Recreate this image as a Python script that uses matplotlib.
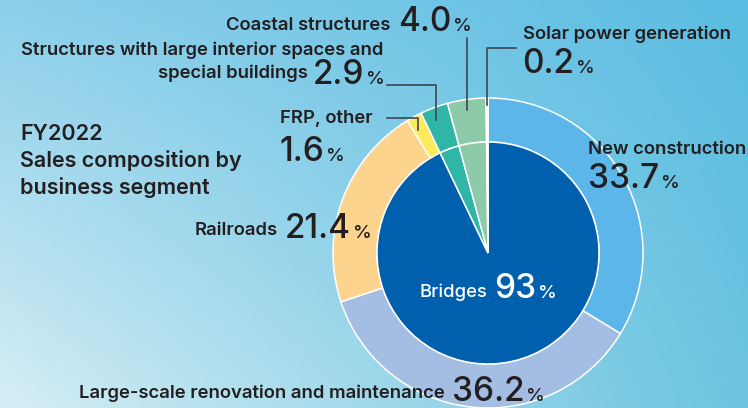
import numpy as np
import matplotlib
matplotlib.use("Agg")
import matplotlib.pyplot as plt

# outer ring: business segments (clockwise from 12 o'clock)
outer_names = ["New construction", "Large-scale renovation and maintenance", "Railroads",
               "FRP, other", "Structures with large interior spaces and special buildings",
               "Coastal structures", "Solar power generation"]
outer_vals = [33.7, 36.2, 21.4, 1.6, 2.9, 4.0, 0.2]
outer_colors = ["#5db6e9", "#a4bee3", "#fdd48e", "#fbea5a", "#30b6a6", "#8dcaa9", "#d2ecd6"]

# inner pie: bridges vs. the rest
inner_vals = [92.9, 2.9, 4.0, 0.2]
inner_colors = ["#0060ae", "#30b6a6", "#8dcaa9", "#d2ecd6"]

TXT = "#231f20"
LINE = "#3d4650"
W, H = 748, 408

plt.rcParams['font.family'] = ['Inter', 'DejaVu Sans']

fig = plt.figure(figsize=(W / 100, H / 100), dpi=100)
ax = fig.add_axes([0, 0, 1, 1])

# sky gradient background
def hex2rgb(h):
    return np.array([int(h[i:i + 2], 16) / 255 for i in (1, 3, 5)])
tl, tr, bl, br = [hex2rgb(c) for c in ("#8ccfea", "#5bbde2", "#d6eef5", "#6cc4e0")]
xs = np.linspace(0, 1, 200)[None, :, None]
ys = np.linspace(0, 1, 120)[:, None, None]
bg = (1 - ys) * ((1 - xs) * tl + xs * tr) + ys * ((1 - xs) * bl + xs * br)
ax.imshow(bg, extent=[0, W, 0, H], aspect='auto', zorder=0)

cx, cy = 488, H - 253
R, r = 155, 111
ax.pie(outer_vals, colors=outer_colors, startangle=90, counterclock=False,
       center=(cx, cy), radius=R, frame=True,
       wedgeprops=dict(width=R - r, edgecolor='white', linewidth=1.1))
ax.pie(inner_vals, colors=inner_colors, startangle=90, counterclock=False,
       center=(cx, cy), radius=r, frame=True,
       wedgeprops=dict(edgecolor='white', linewidth=1.1))
ax.set_xlim(0, W)
ax.set_ylim(0, H)
ax.axis('off')

renderer = fig.canvas.get_renderer()

def T(x, y, s, size=13.3, color=TXT, weight='semibold', ha='left'):
    return ax.text(x, H - y, s, fontsize=size, color=color, fontweight=weight,
                   ha=ha, va='baseline')

def num(x, y, s, color=TXT):
    t = T(x, y, s, size=24, color=color, weight='medium')
    x1 = t.get_window_extent(renderer=renderer).x1
    T(x1 + 2, y, "%", size=13.5, color=color, weight='medium')

# title
T(20, 140, "FY2022", size=15.5)
T(20, 167, "Sales composition by", size=15.5)
T(20, 194, "business segment", size=15.5)

# labels
T(390, 30, "Coastal structures", ha='right')
num(398, 31, "4.0")
T(383, 55, "Structures with large interior spaces and", ha='right')
T(308, 78, "special buildings", ha='right')
num(313, 84, "2.9")
T(280, 123, "FRP, other")
num(279, 161, "1.6")
T(278, 235, "Railroads", ha='right')
num(285, 238, "21.4")
T(588, 154, "New construction")
num(588, 188, "33.7")
T(523, 39, "Solar power generation")
num(522, 73, "0.2")
T(445, 398, "Large-scale renovation and maintenance", ha='right')
num(452, 401, "36.2")
T(420, 297, "Bridges", size=13.3, color='white', weight='medium')
num(494, 298, "93", color='white')

# leader lines
for lx, ly in [([387, 418, 418], [118, 118, 130]),
               ([387, 436, 436], [85, 85, 120]),
               ([467, 467], [38, 110]),
               ([516, 487, 487], [48, 48, 105])]:
    ax.plot(lx, [H - v for v in ly], color=LINE, lw=1.2, zorder=5)

fig.savefig("out.png", dpi=100)
